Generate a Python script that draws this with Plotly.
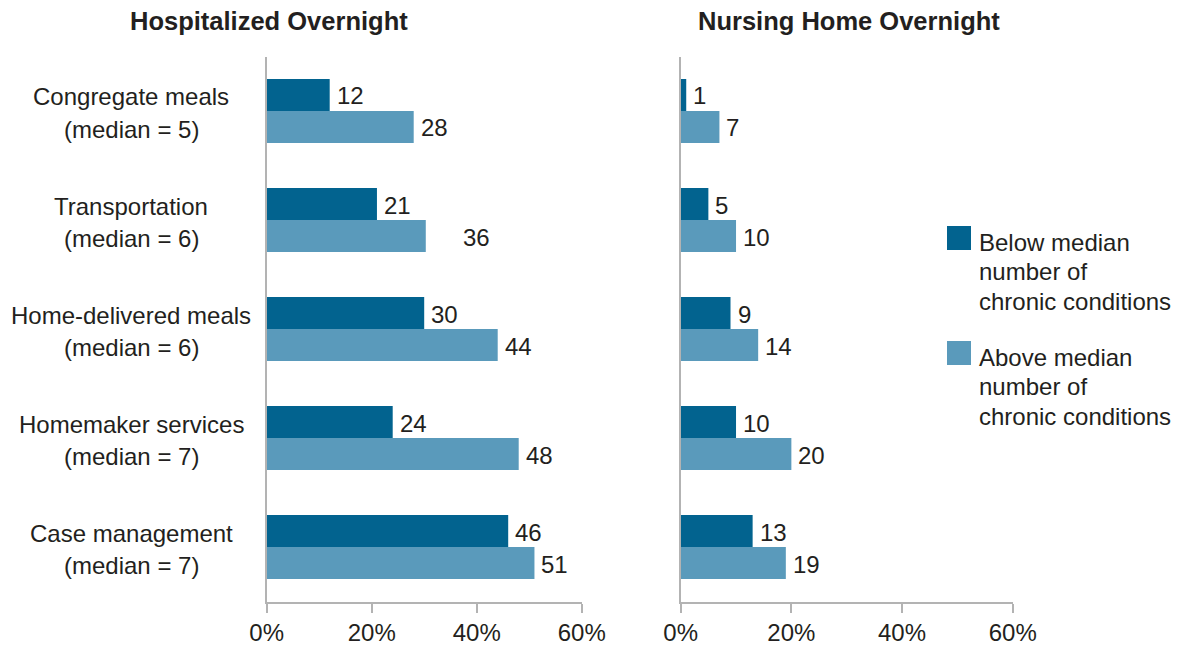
import plotly.graph_objects as go

W, H = 1184, 645

categories = ["Congregate meals", "Transportation", "Home-delivered meals",
              "Homemaker services", "Case management"]
medians = [5, 6, 6, 7, 7]

# Hospitalized overnight (%)
hosp_below = [12, 21, 30, 24, 46]
hosp_above = [28, 30.3, 44, 48, 51]          # bar lengths as drawn
hosp_below_labels = [12, 21, 30, 24, 46]
hosp_above_labels = [28, 36, 44, 48, 51]     # printed labels

# Nursing home overnight (%)
nh_below = [1, 5, 9, 10, 13]
nh_above = [7, 10, 14, 20, 19]
nh_below_labels = [1, 5, 9, 10, 13]
nh_above_labels = [7, 10, 14, 20, 19]

x_ticks = [0, 20, 40, 60]
x_tick_labels = ["0%", "20%", "40%", "60%"]
series_names = ["Below median number of chronic conditions",
                "Above median number of chronic conditions"]
legend_lines = [["Below median", "number of", "chronic conditions"],
                ["Above median", "number of", "chronic conditions"]]
titles = ["Hospitalized Overnight", "Nursing Home Overnight"]

DARK = "#02638f"
LIGHT = "#5a9abb"
TXT = "#231f20"
AX = "#b3b3b3"
FONT = "Liberation Sans, Arial, sans-serif"
FS = 24


def px(x):
    return x / W


def py(y):
    return 1 - y / H


fig = go.Figure()

panels = [("x", "y", hosp_below, hosp_above, hosp_below_labels, hosp_above_labels),
          ("x2", "y2", nh_below, nh_above, nh_below_labels, nh_above_labels)]

annotations = []
for xa, ya, below, above, bl, al in panels:
    fig.add_trace(go.Bar(y=categories, x=below, orientation="h", marker_color=DARK,
                         name=series_names[0], xaxis=xa, yaxis=ya, showlegend=False))
    fig.add_trace(go.Bar(y=categories, x=above, orientation="h", marker_color=LIGHT,
                         name=series_names[1], xaxis=xa, yaxis=ya, showlegend=False))
    for c, v in zip(categories, bl):
        annotations.append(dict(x=v, y=c, xref=xa, yref=ya, text=str(v), showarrow=False,
                                xanchor="left", yanchor="middle", xshift=5, yshift=15,
                                font=dict(size=FS, color=TXT, family=FONT)))
    for c, v in zip(categories, al):
        annotations.append(dict(x=v, y=c, xref=xa, yref=ya, text=str(v), showarrow=False,
                                xanchor="left", yanchor="middle", xshift=5, yshift=-17,
                                font=dict(size=FS, color=TXT, family=FONT)))

# category labels (centered two-line)
for c, m in zip(categories, medians):
    annotations.append(dict(x=px(131), y=c, xref="paper", yref="y", text=c, showarrow=False,
                            xanchor="center", yanchor="middle", yshift=14,
                            font=dict(size=FS, color=TXT, family=FONT)))
    annotations.append(dict(x=px(131), y=c, xref="paper", yref="y", text=f"(median = {m})",
                            showarrow=False, xanchor="center", yanchor="middle", yshift=-18,
                            font=dict(size=FS, color=TXT, family=FONT)))

# panel titles
for t, cx in zip(titles, [269, 849]):
    annotations.append(dict(x=px(cx), y=py(21), xref="paper", yref="paper", text=f"<b>{t}</b>",
                            showarrow=False, xanchor="center", yanchor="middle",
                            font=dict(size=25.5, color=TXT, family=FONT)))

# legend
shapes = []
for i, (col, top, lines) in enumerate(zip([DARK, LIGHT], [226, 341], legend_lines)):
    shapes.append(dict(type="rect", xref="paper", yref="paper", x0=px(947), x1=px(971),
                       y0=py(top), y1=py(top + 24), fillcolor=col, line=dict(width=0)))
    for j, ln in enumerate(lines):
        annotations.append(dict(x=px(977), y=py(top + 16 + 29.5 * j), xref="paper", yref="paper",
                                text=ln, showarrow=False, xanchor="left", yanchor="middle",
                                font=dict(size=FS, color=TXT, family=FONT)))

ydom = [py(601.5), py(56.5)]
xcommon = dict(range=[0, 60], tickvals=x_ticks, ticktext=x_tick_labels, ticks="outside",
               ticklen=9, tickwidth=2, tickcolor=AX, showline=True, linecolor=AX, linewidth=2,
               showgrid=False, zeroline=False, fixedrange=True, automargin=False,
               tickfont=dict(size=FS, color=TXT, family=FONT))
ycommon = dict(autorange="reversed", showticklabels=False, ticks="", showline=True,
               linecolor=AX, linewidth=2, showgrid=False, domain=ydom, fixedrange=True,
               automargin=False)

fig.update_layout(
    template="none",
    width=W, height=H, autosize=False,
    margin=dict(l=0, r=0, t=0, b=0, pad=0),
    paper_bgcolor="white", plot_bgcolor="white",
    barmode="group", bargap=0.413, bargroupgap=0,
    xaxis=dict(domain=[px(266.7), px(581.7)], anchor="y", **xcommon),
    xaxis2=dict(domain=[px(680.7), px(1012.7)], anchor="y2", **xcommon),
    yaxis=dict(anchor="x", **ycommon),
    yaxis2=dict(anchor="x2", **ycommon),
    annotations=annotations,
    shapes=shapes,
    font=dict(family=FONT, color=TXT),
    showlegend=False,
)

fig.write_html("out.html", config={"displayModeBar": False, "staticPlot": True},
               post_script="document.body.style.margin='0px';")
